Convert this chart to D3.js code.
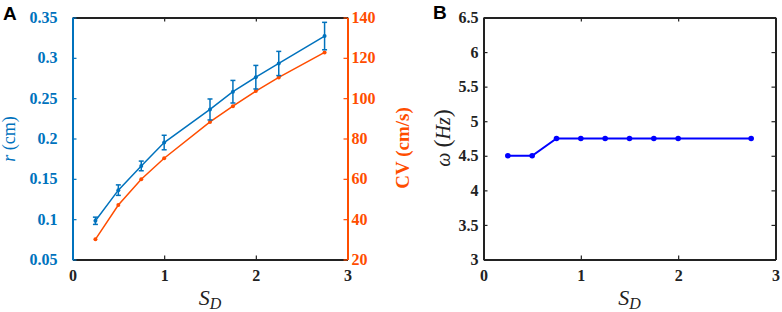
<!DOCTYPE html>
<html>
<head>
<meta charset="utf-8">
<script src="https://cdn.jsdelivr.net/npm/d3@7"></script>
<style>
body{margin:0;background:#fff;}
svg text{font-family:"Liberation Serif","Times New Roman",serif;}
</style>
</head>
<body>
<div id="chart"></div>
<script>
// panel A data
let sdA = [0.25, 0.5, 0.75, 1, 1.5, 1.75, 2, 2.25, 2.75]
let rVals = [0.098, 0.136, 0.166, 0.195, 0.236, 0.258, 0.276, 0.293, 0.327]
let rErr = [0.0045, 0.0065, 0.006, 0.009, 0.013, 0.014, 0.0146, 0.015, 0.017]
let cvVals = [30, 47, 59.8, 70.2, 88.2, 96, 103.5, 110.3, 122.7]
// panel B data
let sdB = [0.25, 0.5, 0.75, 1, 1.25, 1.5, 1.75, 2, 2.75]
let omega = [4.5, 4.5, 4.75, 4.75, 4.75, 4.75, 4.75, 4.75, 4.75]

let xTicks = [0, 1, 2, 3]
let rTicks = [0.05, 0.1, 0.15, 0.2, 0.25, 0.3, 0.35]
let cvTicks = [20, 40, 60, 80, 100, 120, 140]
let wTicks = [3, 3.5, 4, 4.5, 5, 5.5, 6, 6.5]

let blue = "#0072BD", orange = "#FF4D00", pureBlue = "#0000FF"

let svg = d3.select("#chart").append("svg")
    .attr("width", 782)
    .attr("height", 312)

function styleAxis(g, color){
    g.select(".domain").attr("stroke", color).attr("stroke-width", 2)
    g.selectAll(".tick line").attr("stroke", color).attr("stroke-width", 1.2)
    g.selectAll(".tick text")
        .attr("fill", color)
        .style("font-size", "16px")
        .style("font-weight", "bold")
}

// ---------- panel A ----------
let A = {left: 72.5, right: 347.5, top: 17.5, bottom: 259.5}
let xA = d3.scaleLinear().domain([0, 3]).range([A.left, A.right])
let yR = d3.scaleLinear().domain([0.05, 0.35]).range([A.bottom, A.top])
let yCV = d3.scaleLinear().domain([20, 140]).range([A.bottom, A.top])

let gA = svg.append("g")

// top & bottom (black)
gA.append("g")
    .attr("transform", "translate(0," + A.top + ")")
    .call(d3.axisTop(xA).tickValues(xTicks).tickSizeInner(-4).tickSizeOuter(0).tickFormat(""))
    .call(g => styleAxis(g, "#222"))
gA.append("g")
    .attr("transform", "translate(0," + A.bottom + ")")
    .call(d3.axisBottom(xA).tickValues(xTicks).tickSizeInner(-4).tickSizeOuter(0).tickPadding(10).tickFormat(d3.format("d")))
    .call(g => styleAxis(g, "#222"))

// left r axis
gA.append("g")
    .attr("transform", "translate(" + A.left + ",0)")
    .call(d3.axisLeft(yR).tickValues(rTicks).tickSizeInner(-4).tickSizeOuter(0).tickPadding(15).tickFormat(d => String(+d.toFixed(2))))
    .call(g => styleAxis(g, blue))

// right CV axis
gA.append("g")
    .attr("transform", "translate(" + A.right + ",0)")
    .call(d3.axisRight(yCV).tickValues(cvTicks).tickSizeInner(-4).tickSizeOuter(0).tickPadding(4))
    .call(g => styleAxis(g, orange))

// CV line
let cvData = sdA.map((d, i) => ({x: d, y: cvVals[i]}))
gA.append("path")
    .datum(cvData)
    .attr("fill", "none")
    .attr("stroke", orange)
    .attr("stroke-width", 1.5)
    .attr("d", d3.line().x(d => xA(d.x)).y(d => yCV(d.y)))
gA.selectAll(".cvdot").data(cvData).enter().append("circle")
    .attr("cx", d => xA(d.x)).attr("cy", d => yCV(d.y)).attr("r", 2)
    .attr("fill", orange)

// r line with error bars
let rData = sdA.map((d, i) => ({x: d, y: rVals[i], e: rErr[i]}))
gA.append("path")
    .datum(rData)
    .attr("fill", "none")
    .attr("stroke", blue)
    .attr("stroke-width", 1.5)
    .attr("d", d3.line().x(d => xA(d.x)).y(d => yR(d.y)))
let eb = gA.selectAll(".eb").data(rData).enter().append("g")
eb.append("line")
    .attr("x1", d => xA(d.x)).attr("x2", d => xA(d.x))
    .attr("y1", d => yR(d.y - d.e)).attr("y2", d => yR(d.y + d.e))
    .attr("stroke", blue).attr("stroke-width", 1.5)
eb.append("line")
    .attr("x1", d => xA(d.x) - 2.5).attr("x2", d => xA(d.x) + 2.5)
    .attr("y1", d => yR(d.y - d.e)).attr("y2", d => yR(d.y - d.e))
    .attr("stroke", blue).attr("stroke-width", 1.5)
eb.append("line")
    .attr("x1", d => xA(d.x) - 2.5).attr("x2", d => xA(d.x) + 2.5)
    .attr("y1", d => yR(d.y + d.e)).attr("y2", d => yR(d.y + d.e))
    .attr("stroke", blue).attr("stroke-width", 1.5)
eb.append("circle")
    .attr("cx", d => xA(d.x)).attr("cy", d => yR(d.y)).attr("r", 2)
    .attr("fill", blue)

// labels A
let rLab = svg.append("text")
    .attr("transform", "translate(15,139) rotate(-90)")
    .attr("text-anchor", "middle")
    .attr("fill", blue)
    .style("font-size", "18px")
rLab.append("tspan").style("font-style", "italic").text("r")
rLab.append("tspan").text(" (cm)")

svg.append("text")
    .attr("transform", "translate(409,148) rotate(-90)")
    .attr("text-anchor", "middle")
    .attr("fill", orange)
    .style("font-size", "19px")
    .style("font-weight", "bold")
    .text("CV (cm/s)")

function sdLabel(cx){
    let t = svg.append("text")
        .attr("x", cx).attr("y", 305)
        .attr("text-anchor", "middle")
        .attr("fill", "#222")
        .style("font-size", "22px")
        .style("font-style", "italic")
    t.append("tspan").text("S")
    t.append("tspan").attr("dy", 4).style("font-size", "16px").text("D")
}
sdLabel((A.left + A.right) / 2)

svg.append("text")
    .attr("x", 3).attr("y", 20)
    .style("font-family", "Arial, 'Liberation Sans', sans-serif")
    .style("font-size", "19px")
    .style("font-weight", "bold")
    .text("A")

// ---------- panel B ----------
let B = {left: 483.5, right: 775.5, top: 17.5, bottom: 259.5}
let xB = d3.scaleLinear().domain([0, 3]).range([B.left, B.right])
let yB = d3.scaleLinear().domain([3, 6.5]).range([B.bottom, B.top])

let gB = svg.append("g")
gB.append("g")
    .attr("transform", "translate(0," + B.top + ")")
    .call(d3.axisTop(xB).tickValues(xTicks).tickSizeInner(-4).tickSizeOuter(0).tickFormat(""))
    .call(g => styleAxis(g, "#222"))
gB.append("g")
    .attr("transform", "translate(0," + B.bottom + ")")
    .call(d3.axisBottom(xB).tickValues(xTicks).tickSizeInner(-4).tickSizeOuter(0).tickPadding(10).tickFormat(d3.format("d")))
    .call(g => styleAxis(g, "#222"))
gB.append("g")
    .attr("transform", "translate(" + B.left + ",0)")
    .call(d3.axisLeft(yB).tickValues(wTicks).tickSizeInner(-4).tickSizeOuter(0).tickPadding(5).tickFormat(d => String(d)))
    .call(g => styleAxis(g, "#222"))
gB.append("g")
    .attr("transform", "translate(" + B.right + ",0)")
    .call(d3.axisRight(yB).tickValues(wTicks).tickSizeInner(-4).tickSizeOuter(0).tickFormat(""))
    .call(g => styleAxis(g, "#222"))

let wData = sdB.map((d, i) => ({x: d, y: omega[i]}))
gB.append("path")
    .datum(wData)
    .attr("fill", "none")
    .attr("stroke", pureBlue)
    .attr("stroke-width", 2)
    .attr("d", d3.line().x(d => xB(d.x)).y(d => yB(d.y)))
gB.selectAll(".wdot").data(wData).enter().append("circle")
    .attr("cx", d => xB(d.x)).attr("cy", d => yB(d.y)).attr("r", 2.8)
    .attr("fill", pureBlue)

let wLab = svg.append("text")
    .attr("transform", "translate(450,138) rotate(-90)")
    .attr("text-anchor", "middle")
    .attr("fill", "#222")
    .style("font-size", "20px")
wLab.append("tspan").style("font-style", "italic").text("ω ")
wLab.append("tspan").style("font-size", "24px").text("(")
wLab.append("tspan").style("font-style", "italic").text("Hz")
wLab.append("tspan").style("font-size", "24px").text(")")

sdLabel((B.left + B.right) / 2)

svg.append("text")
    .attr("x", 433).attr("y", 19)
    .style("font-family", "Arial, 'Liberation Sans', sans-serif")
    .style("font-size", "19px")
    .style("font-weight", "bold")
    .text("B")
</script>
</body>
</html>
